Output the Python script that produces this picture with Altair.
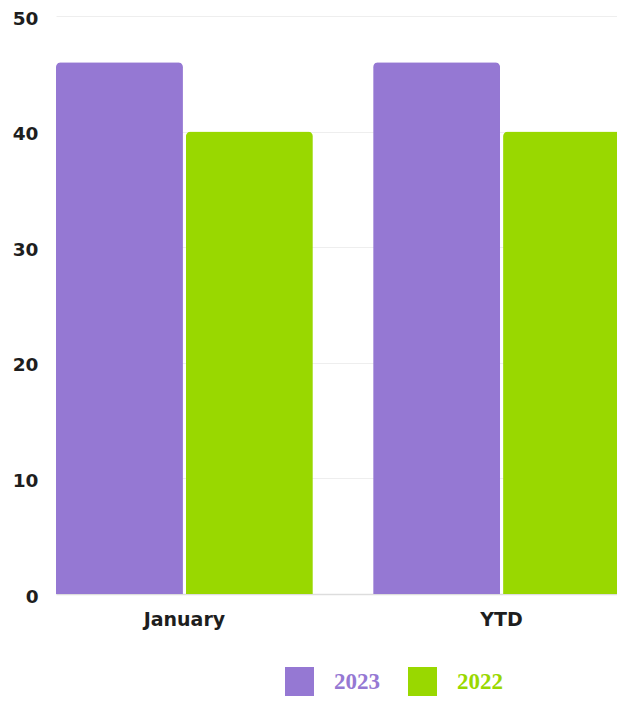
import altair as alt
import pandas as pd

categories = ["January", "YTD"]
years = ["2023", "2022"]
values_2023 = [46, 46]
values_2022 = [40, 40]
colors = ["#9578d3", "#99d800"]

rows = []
for i, c in enumerate(categories):
    rows.append({"category": c, "year": "2023", "value": values_2023[i]})
    rows.append({"category": c, "year": "2022", "value": values_2022[i]})
df = pd.DataFrame(rows)

chart = alt.Chart(df).mark_bar(
    cornerRadiusTopLeft=5, cornerRadiusTopRight=5
).encode(
    x=alt.X("category:N", sort=categories, title=None,
            scale=alt.Scale(paddingInner=0.19, paddingOuter=0, range=[0, 574]),
            axis=alt.Axis(labelAngle=0, labelFont="DejaVu Sans", labelFontSize=19,
                          labelFontWeight="bold", labelColor="#1e1e1e", labelPadding=16,
                          ticks=False, domainColor="#dddddd", domainWidth=1.5)),
    xOffset=alt.XOffset("year:N", sort=years,
                        scale=alt.Scale(paddingInner=0.023, paddingOuter=0)),
    y=alt.Y("value:Q", title=None,
            scale=alt.Scale(domain=[0, 50]),
            axis=alt.Axis(values=[0, 10, 20, 30, 40, 50], labelFont="DejaVu Sans",
                          labelFontSize=18.5, labelFontWeight="bold", labelColor="#1e1e1e",
                          labelPadding=18, labelOffset=2, ticks=False, domain=False,
                          gridColor="#eeeeee", gridWidth=1)),
    color=alt.Color("year:N", sort=years,
                    scale=alt.Scale(domain=years, range=colors),
                    legend=alt.Legend(title=None, orient="none", direction="horizontal",
                                      legendX=229, legendY=651,
                                      symbolType="square", symbolSize=841,
                                      symbolStrokeWidth=0, symbolOpacity=1,
                                      labelFont="Liberation Serif", labelFontSize=23,
                                      labelFontWeight="bold",
                                      labelColor=alt.ExprRef("datum.value === '2023' ? '#9578d3' : '#99d800'"),
                                      labelOffset=20, columnPadding=28)),
).properties(
    width=561, height=578,
    padding={"left": 48, "top": 8, "right": 0, "bottom": 102},
    autosize=alt.AutoSizeParams(type="none"),
).configure_view(stroke=None)

chart.save("out.html", embed_options={"renderer": "svg", "actions": False})
